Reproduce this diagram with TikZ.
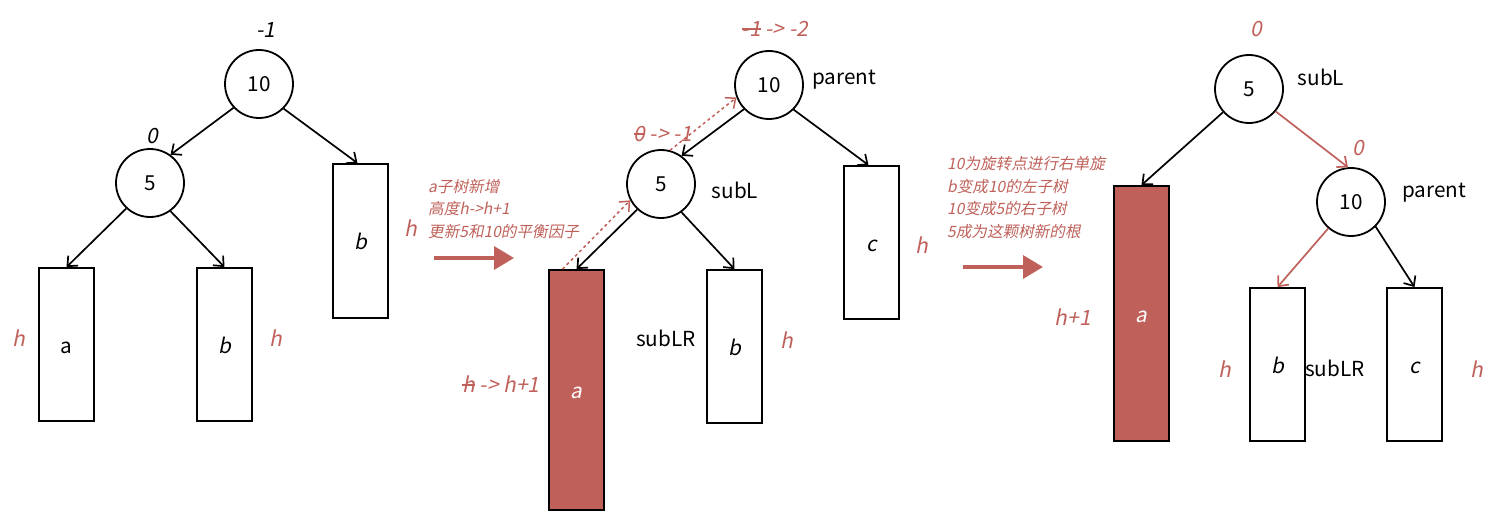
\documentclass[tikz,border=0pt]{standalone}
\usepackage{fontspec}
\setmainfont{Noto Sans CJK SC}
\newfontfamily\slantfont[FakeSlant=0.2]{Noto Sans CJK SC}
\usetikzlibrary{arrows.meta, positioning}
\definecolor{avlred}{HTML}{BF615A}
\newcommand{\strk}[1]{\leavevmode\setbox0\hbox{#1}\rlap{\rule[0.32em]{\wd0}{0.07em}}\box0\relax}
\tikzset{
  % Tree nodes and subtrees
  treenode/.style={
    circle, draw=black, fill=white, minimum size=68pt, inner sep=0pt,
    line width=1.8pt, font=\fontsize{20.7}{24}\selectfont,
  },
  subtree/.style={
    rectangle, draw=black, fill=#1, minimum width=55pt, inner sep=0pt,
    line width=1.8pt, font=\fontsize{20.7}{24}\selectfont\slantfont,
    text height=17pt, text depth=0pt,
  },
  subtree/.default={white},
  % Arrows
  myarrow/.style={-{Straight Barb[length=8pt,width=14pt]}, line width=1.7pt, #1},
  myarrow/.default={black},
  hintarrow/.style={myarrow=avlred, line width=1.5pt, dash pattern=on 3pt off 3pt},
  bigarrow/.style={-{Triangle[length=20pt,width=23pt]}, line width=3.5pt, avlred},
  % Labels
  namelabel/.style={font=\fontsize{20.7}{24}\selectfont, text=black},
  factor/.style={font=\fontsize{21}{25}\selectfont\slantfont, text=#1},
  factor/.default={avlred},
  notetext/.style={
    font=\fontsize{15.6}{22.5}\selectfont\slantfont, text=avlred,
    align=left, anchor=west, inner sep=0pt,
  },
}
\begin{document}
\begin{tikzpicture}[x=1pt, y=-1pt]
  \useasboundingbox (0,0) rectangle (1496,524);

  % Left tree
  \node[treenode] (ten1) at (259,84) {10};
  \node[treenode] (five1) at (150,183) {5};
  \node[subtree, minimum height=153pt, font=\fontsize{20.7}{24}\selectfont] (a1) at (66.5,344.5) {a};
  \node[subtree, minimum height=153pt] (b1) at (224.5,344.5) {b};
  \node[subtree, minimum height=154pt] (br1) at (360.5,241) {b};
  \node[factor=black] (ften1) at (266,30) {-1};
  \node[factor=black] (ffive1) at (152,136) {0};
  \node[factor] (ha1) at (19,338) {h};
  \node[factor] (hb1) at (276,338) {h};
  \node[factor] (hbr1) at (411,228) {h};
  \draw[myarrow] (ten1.223) -- (five1.54);
  \draw[myarrow] (ten1.-45) -- ([xshift=-3pt]br1.north);
  \draw[myarrow] (five1.227) -- (a1.north);
  \draw[myarrow] (five1.-54) -- (b1.north);

  % First step
  \node[notetext] (note1) at (428,209) {a子树新增\\高度h->h+1\\更新5和10的平衡因子};
  \coordinate (s1) at (434,258);
  \coordinate (e1) at (514,258);
  \draw[bigarrow] (s1) -- (e1);

  % Middle tree
  \node[treenode] (ten2) at (769,85) {10};
  \node[treenode] (five2) at (661,184) {5};
  \node[subtree=avlred, minimum height=240pt, text=white] (a2) at (576.5,390) {a};
  \node[subtree, minimum height=153pt] (b2) at (734.5,346.5) {b};
  \node[subtree, minimum height=153pt] (c2) at (871.5,242.5) {c};
  \node[factor] (ften2) at (775,29) {\strk{-1} -> -2};
  \node[factor] (ffive2) at (663,134) {\strk{0} -> -1};
  \node[namelabel] (par2) at (844,80) {parent};
  \node[namelabel] (sub2) at (735,190) {subL};
  \node[namelabel] (lr2) at (666,338) {subLR};
  \node[factor] (ha2) at (501,384) {\strk{h} -> h+1};
  \node[factor] (hb2) at (787,340) {h};
  \node[factor] (hc2) at (922,245) {h};
  \draw[myarrow] (ten2.224) -- (five2.54);
  \draw[myarrow] (ten2.-45) -- ([xshift=-3pt]c2.north);
  \draw[myarrow] (five2.227) -- (a2.north);
  \draw[myarrow] (five2.-54) -- (b2.north);
  \draw[hintarrow] ([xshift=-14pt]a2.north) -- (five2.208);
  \draw[hintarrow] (five2.75) -- (ten2.201);

  % Second step
  \node[notetext] (note2) at (947,197.5) {10为旋转点进行右单旋\\b变成10的左子树\\10变成5的右子树\\5成为这颗树新的根};
  \coordinate (s2) at (963,267);
  \coordinate (e2) at (1043,267);
  \draw[bigarrow] (s2) -- (e2);

  % Right tree
  \node[treenode] (five3) at (1249,89) {5};
  \node[treenode] (ten3) at (1351,202) {10};
  \node[subtree=avlred, minimum height=255pt, text=white] (a3) at (1141.5,313.5) {a};
  \node[subtree, minimum height=153pt] (b3) at (1277.5,364.5) {b};
  \node[subtree, minimum height=153pt] (c3) at (1414.5,364.5) {c};
  \node[factor] (ffive3) at (1256,29) {0};
  \node[factor] (ften3) at (1358,148) {0};
  \node[namelabel] (sub3) at (1321,77) {subL};
  \node[namelabel] (par3) at (1434,193) {parent};
  \node[namelabel] (lr3) at (1335,368) {subLR};
  \node[factor] (ha3) at (1073,317) {h+1};
  \node[factor] (hb3) at (1225,369) {h};
  \node[factor] (hc3) at (1477,369) {h};
  \draw[myarrow] (five3) -- (a3.north);
  \draw[myarrow=avlred] (five3.-40) -- (ten3.95);
  \draw[myarrow=avlred] (ten3) -- (b3.north);
  \draw[myarrow] (ten3.-45) -- (c3.north);

\end{tikzpicture}
\end{document}
